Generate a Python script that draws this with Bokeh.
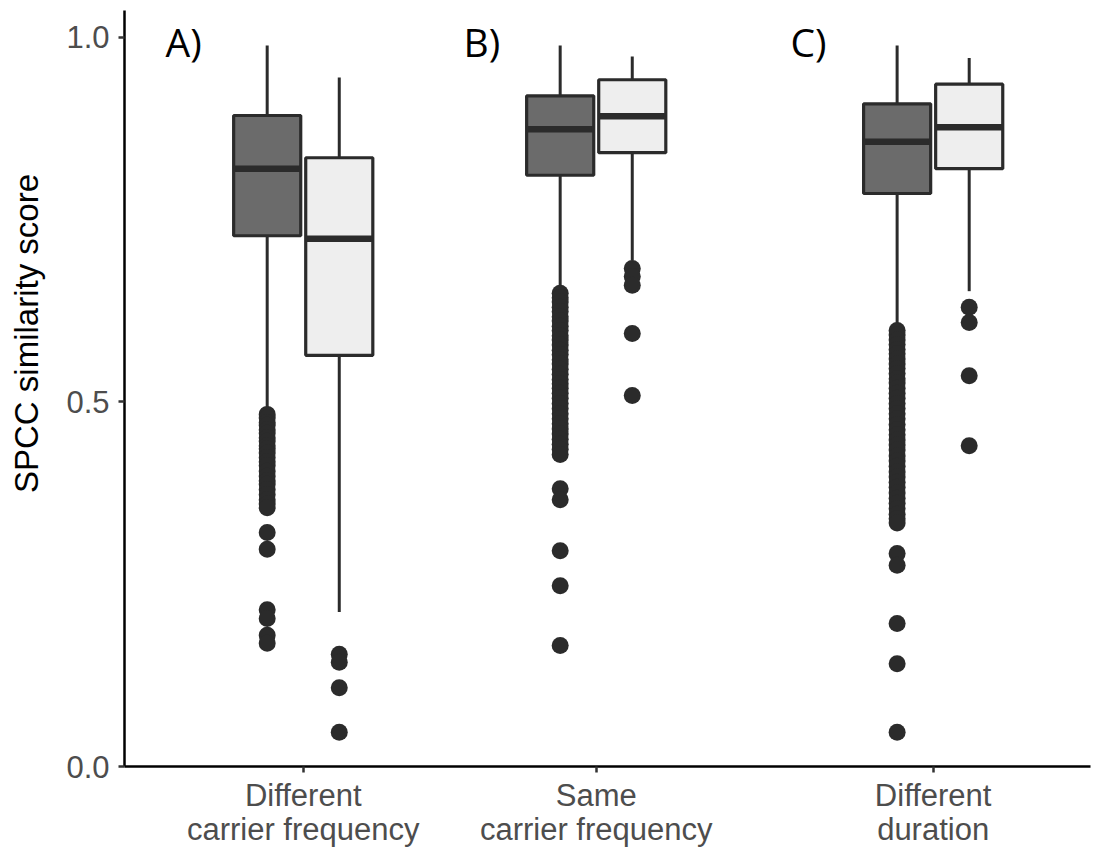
from bokeh.plotting import figure
from bokeh.models import (Range1d, FixedTicker, Label, ColumnDataSource, PrintfTickFormatter,
                          LinearAxis, CustomJSTickFormatter)
from bokeh.embed import file_html
from bokeh.resources import INLINE

# ---------------- data ----------------
groups = ["Different carrier frequency", "Same carrier frequency", "Different duration"]
label_line1 = ["Different", "Same", "Different"]
label_line2 = ["carrier frequency", "carrier frequency", "duration"]
panel_tags = ["A)", "B)", "C)"]
y_ticks = [0.0, 0.5, 1.0]

# dark boxes
dark_lo = [0.487, 0.647, 0.606]
dark_q1 = [0.728, 0.811, 0.786]
dark_med = [0.820, 0.874, 0.857]
dark_q3 = [0.893, 0.920, 0.909]
dark_hi = [0.989, 0.989, 0.989]

# light boxes
light_lo = [0.212, 0.694, 0.652]
light_q1 = [0.564, 0.842, 0.820]
light_med = [0.724, 0.892, 0.877]
light_q3 = [0.835, 0.942, 0.936]
light_hi = [0.945, 0.974, 0.972]

dark_outliers_A = [0.483, 0.478, 0.472, 0.468, 0.462, 0.457, 0.451, 0.446, 0.440, 0.436,
                   0.430, 0.424, 0.418, 0.413, 0.405, 0.398, 0.392, 0.387, 0.380, 0.373,
                   0.366, 0.360, 0.355, 0.321, 0.298, 0.215, 0.203, 0.180, 0.169]
dark_outliers_B = [0.649, 0.643, 0.637, 0.630, 0.624, 0.617, 0.611, 0.604, 0.598, 0.591,
                   0.585, 0.578, 0.571, 0.565, 0.558, 0.552, 0.545, 0.538, 0.531, 0.525,
                   0.519, 0.512, 0.505, 0.498, 0.491, 0.484, 0.477, 0.470, 0.463, 0.456,
                   0.449, 0.442, 0.435, 0.428, 0.381, 0.366, 0.296, 0.248, 0.166]
dark_outliers_C = [0.598, 0.592, 0.585, 0.579, 0.572, 0.566, 0.559, 0.552, 0.546, 0.539,
                   0.532, 0.526, 0.519, 0.512, 0.505, 0.498, 0.491, 0.484, 0.477, 0.469,
                   0.462, 0.455, 0.448, 0.441, 0.434, 0.426, 0.419, 0.412, 0.404, 0.397,
                   0.390, 0.383, 0.375, 0.368, 0.361, 0.354, 0.346, 0.340, 0.334, 0.292,
                   0.276, 0.196, 0.141, 0.047]
light_outliers_A = [0.154, 0.143, 0.108, 0.047]
light_outliers_B = [0.683, 0.672, 0.660, 0.594, 0.509]
light_outliers_C = [0.630, 0.609, 0.536, 0.440]

dark_outliers = [dark_outliers_A, dark_outliers_B, dark_outliers_C]
light_outliers = [light_outliers_A, light_outliers_B, light_outliers_C]

y_title = "SPCC similarity score"

# ---------------- layout / style ----------------
group_x = [1.0, 2.0, 3.15]
dodge = 0.123
box_w = 0.229
line_col = "#2b2b2b"
dark_fill = "#6b6b6b"
light_fill = "#eeeeee"
tick_col = "#4d4d4d"

p = figure(width=1096, height=850, output_backend="svg", toolbar_location=None,
           x_range=Range1d(0.390, 3.687), y_range=Range1d(0.0, 1.037),
           min_border_left=124, min_border_right=6, min_border_top=10, min_border_bottom=84)
p.outline_line_color = None
p.xgrid.visible = False
p.ygrid.visible = False
p.background_fill_color = "white"
p.border_fill_color = "white"

for ax in (p.xaxis, p.yaxis):
    ax.axis_line_color = "black"
    ax.axis_line_width = 2.5
    ax.major_tick_out = 6
    ax.major_tick_in = 0
    ax.major_tick_line_color = "#333333"
    ax.major_tick_line_width = 2.5
    ax.minor_tick_line_color = None

p.yaxis.ticker = FixedTicker(ticks=y_ticks)
p.yaxis.formatter = PrintfTickFormatter(format="%.1f")
p.yaxis.major_label_text_font = "Liberation Sans"
p.yaxis.major_label_text_font_size = "31px"
p.yaxis.major_label_text_color = tick_col
p.yaxis.major_label_standoff = 9
p.yaxis.axis_label = "\u00a0" * 12 + y_title
p.yaxis.axis_label_text_font = "Liberation Sans"
p.yaxis.axis_label_text_font_size = "33px"
p.yaxis.axis_label_text_font_style = "normal"
p.yaxis.axis_label_text_color = "black"
p.yaxis.axis_label_standoff = 18

# first line of the category labels on the main x axis
p.xaxis.ticker = FixedTicker(ticks=group_x)
p.xaxis.formatter = CustomJSTickFormatter(args=dict(labels=label_line1),
                                          code="return labels[index];")
p.xaxis.major_label_text_font = "Liberation Sans"
p.xaxis.major_label_text_font_size = "31px"
p.xaxis.major_label_text_color = tick_col
p.xaxis.major_label_standoff = 5

# second line of the category labels on a label-only axis below it
ax2 = LinearAxis(ticker=FixedTicker(ticks=group_x),
                 formatter=CustomJSTickFormatter(args=dict(labels=label_line2),
                                                 code="return labels[index];"),
                 axis_line_color=None, major_tick_line_color=None, minor_tick_line_color=None,
                 major_tick_in=0, major_tick_out=0, major_label_standoff=-4,
                 major_label_text_font="Liberation Sans", major_label_text_font_size="31px",
                 major_label_text_color=tick_col)
p.add_layout(ax2, "below")


def draw(xs, lo, q1, med, q3, hi, fill):
    src = ColumnDataSource(dict(x=xs, lo=lo, q1=q1, med=med, q3=q3, hi=hi,
                                l=[x - box_w / 2 for x in xs], r=[x + box_w / 2 for x in xs]))
    p.segment(x0="x", x1="x", y0="q3", y1="hi", source=src, line_color=line_col, line_width=3)
    p.segment(x0="x", x1="x", y0="q1", y1="lo", source=src, line_color=line_col, line_width=3)
    p.vbar(x="x", width=box_w, top="q3", bottom="q1", source=src, fill_color=fill,
           line_color=line_col, line_width=3.2)
    p.segment(x0="l", x1="r", y0="med", y1="med", source=src, line_color=line_col, line_width=6.5)


dark_x = [g - dodge for g in group_x]
light_x = [g + dodge for g in group_x]

ox, oy = [], []
for i, vals in enumerate(dark_outliers):
    ox += [dark_x[i]] * len(vals)
    oy += vals
for i, vals in enumerate(light_outliers):
    ox += [light_x[i]] * len(vals)
    oy += vals

draw(dark_x, dark_lo, dark_q1, dark_med, dark_q3, dark_hi, dark_fill)
draw(light_x, light_lo, light_q1, light_med, light_q3, light_hi, light_fill)
p.scatter(ox, oy, size=17, fill_color=line_col, line_color=None)

# panel tags
tag_x = [0.530, 1.547, 2.663]
for i, t in enumerate(panel_tags):
    p.add_layout(Label(x=tag_x[i], y=0.995, text=t, text_align="left", text_baseline="middle",
                       text_font="Open Sans", text_font_size="39px", text_color="black"))

open("out.html", "w").write(file_html(p, INLINE))
